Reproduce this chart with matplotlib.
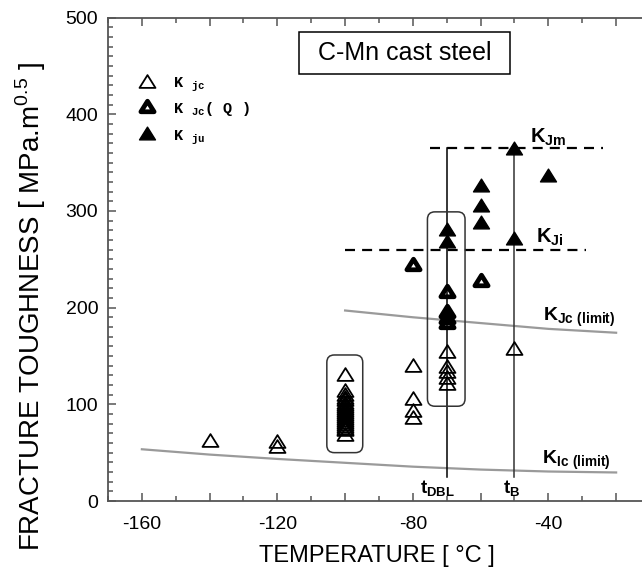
import matplotlib
matplotlib.use("Agg")
import matplotlib.pyplot as plt
from matplotlib.patches import FancyBboxPatch, Rectangle
from matplotlib.path import Path
from matplotlib.markers import MarkerStyle
from matplotlib.ticker import MultipleLocator

plt.rcParams['font.family'] = ['Liberation Sans', 'DejaVu Sans']
plt.rcParams['mathtext.fontset'] = 'custom'
plt.rcParams['mathtext.rm'] = 'Liberation Sans'
plt.rcParams['mathtext.bf'] = 'Liberation Sans:bold'

# ---- measured toughness values ----
# K_Jc: cleavage values
kjc_temp = [-140, -120, -120,
            -100, -100, -100, -100, -100, -100, -100, -100, -100, -100, -100,
            -100, -100, -100, -100, -100, -100, -100, -100, -100, -100,
            -80, -80, -80, -80,
            -70, -70, -70, -70, -70,
            -50]
kjc_val = [63, 62, 57,
           131, 115, 111, 108, 105, 102, 100, 98, 96, 94, 92,
           90, 88, 86, 84, 82, 80, 78, 76, 74, 69,
           141, 107, 94, 87,
           155, 140, 134, 128, 122,
           158]

# K_Jc(Q): provisional values
kjcq_temp = [-80, -70, -70, -70, -70, -60]
kjcq_val = [245, 217, 197, 190, 185, 229]

# K_Ju: instability after ductile tearing
kju_temp = [-70, -70, -60, -60, -60, -50, -50, -40]
kju_val = [281, 269, 327, 306, 289, 365, 272, 337]

# limit curves
kjc_lim_temp = [-100, -80, -60, -40, -20]
kjc_lim_val = [197, 190, 184, 178, 174]
kic_lim_temp = [-160, -140, -120, -100, -80, -60, -40, -20]
kic_lim_val = [53.5, 48, 43.5, 39.5, 35.5, 32.5, 30.5, 29.5]

# characteristic levels and temperatures
kjm_level, kjm_span = 365, (-75, -24)
kji_level, kji_span = 260, (-100, -29)
t_dbl, t_b = -70, -50
t_line_span = (25, 365)

# grouped data regions (temperature range, toughness range)
group_boxes = [((-105.4, -94.8), (50, 151)), ((-75.7, -64.6), (98, 299))]

xtick_vals = [-160, -140, -120, -100, -80, -60, -40, -20]
xtick_labels = ['-160', '', '-120', '', '-80', '', '-40', '']
ytick_vals = [0, 100, 200, 300, 400, 500]
ytick_labels = ['0', '100', '200', '300', '400', '500']

# flattened triangle marker with sharp corners
tri_path = Path([(-1, -0.8), (1, -0.8), (0, 0.8), (-1, -0.8)],
                [Path.MOVETO, Path.LINETO, Path.LINETO, Path.CLOSEPOLY])
tri = MarkerStyle(tri_path, joinstyle='miter')
MS = 11.5
MS_Q, MEW_Q = 9.5, 3.4

W, H = 642, 576
fig = plt.figure(figsize=(W / 100, H / 100), dpi=100)
ax = fig.add_axes([108 / W, 75 / H, 534 / W, 483.5 / H])
ax.set_xlim(-170, -12.36)
ax.set_ylim(0, 500)

spine_col = '#555555'
for s in ['left', 'bottom', 'top']:
    ax.spines[s].set_color(spine_col)
    ax.spines[s].set_linewidth(1.3)
ax.spines['right'].set_visible(False)

ax.set_xticks(xtick_vals)
ax.set_xticklabels(xtick_labels)
ax.xaxis.set_minor_locator(MultipleLocator(10))
ax.set_yticks(ytick_vals)
ax.set_yticklabels(ytick_labels)
ax.yaxis.set_minor_locator(MultipleLocator(10))
ax.tick_params(which='both', direction='in', top=True, right=False,
               color=spine_col, width=1.1, labelsize=14)
ax.tick_params(which='major', length=6)
ax.tick_params(which='minor', length=3.5)
ax.tick_params(axis='x', which='major', pad=11)
ax.tick_params(axis='y', which='major', pad=7)

ax.set_xlabel('TEMPERATURE [ °C ]', fontsize=17)
ax.xaxis.set_label_coords(0.503, -0.09)
ax.set_ylabel('FRACTURE TOUGHNESS [ MPa.m$^{0.5}$ ]', fontsize=20)
ax.yaxis.set_label_coords(-0.112, 0.402)

# limit curves
ax.plot(kjc_lim_temp, kjc_lim_val, color='#9a9a9a', lw=1.6, zorder=2)
ax.plot(kic_lim_temp, kic_lim_val, color='#9a9a9a', lw=1.6, zorder=2)

# characteristic levels
ax.plot(kjm_span, [kjm_level, kjm_level], color='black', lw=1.6,
        dashes=(4.5, 3.2), zorder=2)
ax.plot(kji_span, [kji_level, kji_level], color='black', lw=1.6,
        dashes=(4.5, 3.2), zorder=2)
ax.plot([t_dbl, t_dbl], t_line_span, color='black', lw=1.1, zorder=2)
ax.plot([t_b, t_b], t_line_span, color='#333333', lw=1.1, zorder=2)

# rounded boxes around grouped results
aspect = (534 / (ax.get_xlim()[1] - ax.get_xlim()[0])) / (483.5 / 500)
for (x0, x1), (y0, y1) in group_boxes:
    ax.add_patch(FancyBboxPatch((x0, y0), x1 - x0, y1 - y0,
                                boxstyle='round,pad=0,rounding_size=2.2',
                                mutation_aspect=aspect, fill=False,
                                ec='#333333', lw=1.1, zorder=2))

# data points
ax.plot(kjc_temp, kjc_val, ls='none', marker=tri, ms=MS, mfc='none',
        mec='black', mew=1.3, zorder=3)
ax.plot(kjcq_temp, kjcq_val, ls='none', marker=tri, ms=MS_Q, mfc='none',
        mec='black', mew=MEW_Q, zorder=3)
ax.plot(kju_temp, kju_val, ls='none', marker=tri, ms=MS, mfc='black',
        mec='black', mew=1.0, zorder=3)

# legend
leg_x, leg_tx = -158.6, -150.8
ax.plot([leg_x], [434], ls='none', marker=tri, ms=MS, mfc='none',
        mec='black', mew=1.3)
ax.plot([leg_x], [408.5], ls='none', marker=tri, ms=MS_Q, mfc='none',
        mec='black', mew=MEW_Q)
ax.plot([leg_x], [381], ls='none', marker=tri, ms=MS, mfc='black',
        mec='black', mew=1.0)
leg_kw = dict(family=['Liberation Mono', 'DejaVu Sans Mono'], fontsize=11,
              fontweight='bold', ha='left', va='baseline')
ax.text(leg_tx, 427, r'K $\mathregular{_{jc}}$', **leg_kw)
ax.text(leg_tx, 401, r'K $\mathregular{_{Jc}}$( Q )', **leg_kw)
ax.text(leg_tx, 373, r'K $\mathregular{_{ju}}$', **leg_kw)

# title box
ax.add_patch(Rectangle((-113.6, 441.6), 62.2, 43.1, fill=False,
                       ec='black', lw=1.1, zorder=4))
ax.text(-82.5, 463, 'C-Mn cast steel', fontsize=18, ha='center',
        va='center', zorder=5)

# curve and level labels
lab_kw = dict(fontweight='bold', ha='left', va='baseline')
ax.text(-45.5, 370.5, r'K$\mathregular{_{Jm}}$', fontsize=14.5, **lab_kw)
ax.text(-43.7, 267, r'K$\mathregular{_{Ji}}$', fontsize=14.5, **lab_kw)
ax.text(-41.6, 186.4, r'K$\mathregular{_{Jc\ (limit)}}$', fontsize=14, **lab_kw)
ax.text(-42.0, 38, r'K$\mathregular{_{Ic\ (limit)}}$', fontsize=14, **lab_kw)
ax.text(-77.9, 8.6, r't$\mathregular{_{DBL}}$', fontsize=13.5, **lab_kw)
ax.text(-53.4, 8.6, r't$\mathregular{_{B}}$', fontsize=13.5, **lab_kw)

fig.savefig('out.png', dpi=100)
